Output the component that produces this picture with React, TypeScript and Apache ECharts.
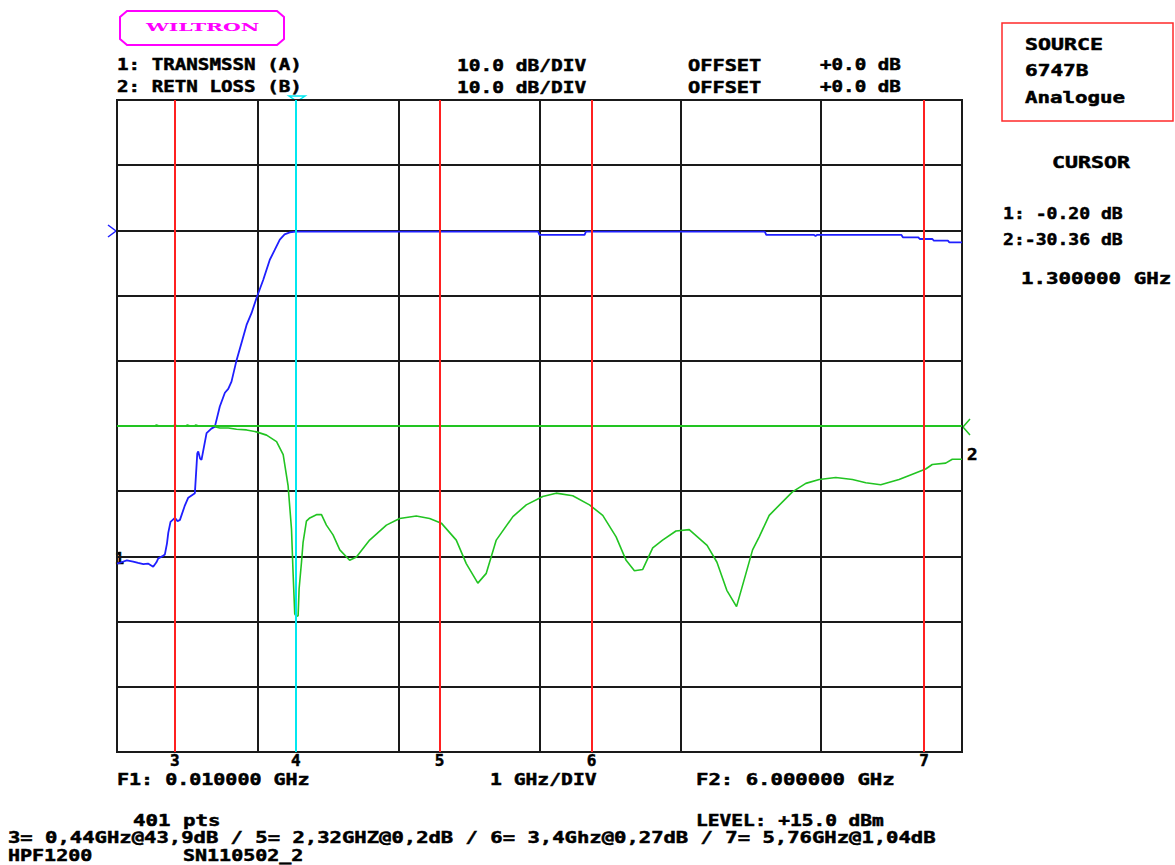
import React, { useEffect, useRef } from "react";
import * as echarts from "echarts";

// Trace 1: transmission (dB) vs frequency (GHz)
const transmission: [number, number][] = [
  [0.03, -51.1], [0.06, -50.9], [0.1, -50.6], [0.145, -50.8], [0.18, -51.0], [0.217, -51.2],
  [0.25, -51.1], [0.287, -51.6], [0.31, -50.9], [0.323, -50.3], [0.35, -50.0], [0.37, -49.7],
  [0.385, -48.0], [0.394, -46.4], [0.41, -44.7], [0.441, -44.1], [0.46, -44.6], [0.477, -44.4],
  [0.51, -42.3], [0.536, -41.0], [0.583, -40.3], [0.6, -34.2], [0.607, -33.9], [0.62, -35.0],
  [0.63, -35.2], [0.666, -31.1], [0.7, -30.4], [0.725, -30.1], [0.76, -27.0], [0.796, -24.9],
  [0.82, -24.3], [0.843, -23.2], [0.879, -19.9], [0.92, -16.8], [0.95, -14.5], [0.985, -12.7],
  [1.02, -10.4], [1.068, -7.6], [1.115, -4.5], [1.15, -3.0], [1.186, -1.4], [1.22, -0.6],
  [1.257, -0.3], [1.3, -0.2], [2.0, -0.2], [2.32, -0.2], [3.02, -0.2], [3.03, -0.7],
  [3.35, -0.7], [3.36, -0.2], [4.63, -0.2], [4.64, -0.7], [4.98, -0.7], [4.99, -0.85],
  [5.0, -0.7], [5.6, -0.7], [5.61, -1.06], [5.72, -1.06], [5.73, -1.32], [5.82, -1.32],
  [5.83, -1.58], [5.93, -1.58], [5.94, -1.83], [6.03, -1.83],
];

// Trace 2: return loss (dB) vs frequency (GHz)
const returnLoss: [number, number][] = [
  [0.03, 0.0], [0.3, 0.0], [0.31, 0.15], [0.33, 0.0], [0.43, 0.0], [0.44, 0.15], [0.46, 0.0],
  [0.52, 0.0], [0.53, 0.15], [0.55, 0.0], [0.58, 0.0], [0.59, 0.15], [0.61, 0.0], [0.7, 0.0],
  [0.76, -0.3], [0.82, -0.3], [0.879, -0.5], [0.95, -0.6], [1.02, -0.9], [1.092, -1.4],
  [1.163, -2.4], [1.21, -4.4], [1.245, -9.2], [1.269, -15.8], [1.28, -22.4], [1.292, -28.8],
  [1.303, -29.2], [1.316, -29.1], [1.323, -25.0], [1.34, -20.9], [1.351, -17.9], [1.375, -14.6],
  [1.399, -14.1], [1.446, -13.6], [1.482, -13.6], [1.517, -15.2], [1.564, -16.7], [1.612, -19.0],
  [1.682, -20.6], [1.73, -20.1], [1.824, -17.5], [1.943, -15.2], [2.037, -14.2], [2.155, -13.8],
  [2.25, -14.2], [2.333, -14.9], [2.439, -17.5], [2.51, -21.1], [2.592, -24.1], [2.652, -22.6],
  [2.723, -17.5], [2.841, -13.9], [2.936, -12.1], [3.053, -10.8], [3.148, -10.3], [3.266, -10.7],
  [3.385, -12.1], [3.479, -13.7], [3.574, -17.0], [3.645, -20.6], [3.704, -22.2], [3.763, -22.0],
  [3.834, -18.7], [3.904, -17.5], [3.999, -16.1], [4.093, -15.9], [4.22, -18.3], [4.29, -20.9],
  [4.36, -25.2], [4.429, -27.7], [4.496, -22.6], [4.543, -19.0], [4.59, -17.0], [4.661, -13.7],
  [4.826, -10.1], [4.921, -8.8], [5.016, -8.2], [5.134, -7.9], [5.252, -8.2], [5.347, -8.7],
  [5.453, -9.0], [5.583, -8.2], [5.678, -7.4], [5.772, -6.6], [5.819, -5.9], [5.914, -5.7],
  [5.961, -5.1], [6.03, -5.1],
];

const markerFreqs = [0.44, 2.32, 3.4, 5.76];
const markerNames = ["3", "5", "6", "7"];
const cursorFreq = 1.3;
const cursorName = "4";

const FONT = "bold 16px 'DejaVu Sans Mono', monospace";

function txt(text: string, x: number, y: number, scaleX: number, extra: any = {}) {
  return {
    type: "text",
    x,
    y,
    scaleX,
    silent: true,
    style: {
      text,
      fill: "#000",
      stroke: "#000",
      lineWidth: 0.5,
      font: FONT,
      align: "left",
      verticalAlign: "middle",
      ...extra,
    },
  };
}

export default function App() {
  const ref = useRef<HTMLDivElement>(null);

  useEffect(() => {
    if (!ref.current) return;
    const chart = echarts.init(ref.current, undefined, { renderer: "svg" });
    const gridLine = { color: "#1a1a1a", width: 2 };
    const option: any = {
      animation: false,
      backgroundColor: "#ffffff",
      grid: {
        left: 117,
        top: 100,
        width: 845,
        height: 652,
        show: true,
        borderColor: "#1a1a1a",
        borderWidth: 2,
        backgroundColor: "transparent",
      },
      xAxis: [
        { type: "value", min: 0.03, max: 6.03, show: false },
        {
          type: "value",
          min: 0,
          max: 6,
          interval: 1,
          axisLine: { show: false },
          axisTick: { show: false },
          axisLabel: { show: false },
          splitLine: { show: true, lineStyle: gridLine },
        },
      ],
      yAxis: [
        {
          type: "value",
          min: -80,
          max: 20,
          interval: 10,
          axisLine: { show: false },
          axisTick: { show: false },
          axisLabel: { show: false },
          splitLine: { show: true, lineStyle: gridLine },
        },
        { type: "value", min: -50, max: 50, show: false },
      ],
      series: [
        {
          name: "2: RETN LOSS (B)",
          type: "line",
          xAxisIndex: 0,
          yAxisIndex: 1,
          data: returnLoss,
          showSymbol: false,
          symbol: "none",
          lineStyle: { color: "#22c422", width: 1.6 },
          z: 3,
          markLine: {
            silent: true,
            symbol: ["none", "none"],
            label: { show: false },
            lineStyle: { color: "#22c422", width: 2, type: "solid" },
            data: [{ yAxis: 0 }],
          },
        },
        {
          name: "1: TRANSMSSN (A)",
          type: "line",
          xAxisIndex: 0,
          yAxisIndex: 0,
          data: transmission,
          showSymbol: false,
          symbol: "none",
          lineStyle: { color: "#1f1fff", width: 1.8 },
          z: 4,
          markLine: {
            silent: true,
            symbol: ["none", "none"],
            lineStyle: { color: "#ff2020", width: 2, type: "solid" },
            label: {
              show: true,
              position: "start",
              formatter: "{b}",
              color: "#000",
              textBorderColor: "#000",
              textBorderWidth: 0.5,
              fontFamily: "'DejaVu Sans Mono', monospace",
              fontWeight: "bold",
              fontSize: 16,
              distance: 0,
            },
            data: [
              ...markerFreqs.map((f, i) => ({ xAxis: f, name: markerNames[i] })),
              {
                xAxis: cursorFreq,
                name: cursorName,
                lineStyle: { color: "#00e8f0", width: 2, type: "solid" },
              },
            ],
          },
        },
      ],
      graphic: [
        {
          type: "polygon",
          silent: true,
          shape: {
            points: [
              [127, 11], [277, 11], [284, 17], [284, 39], [277, 45], [127, 45], [120, 39], [120, 17],
            ],
          },
          style: { fill: "none", stroke: "#ff00ff", lineWidth: 2 },
        },
        txt("WILTRON", 146, 27, 1.85, {
          fill: "#ff00ff",
          stroke: "none",
          lineWidth: 0,
          font: "bold 11px 'DejaVu Serif', serif",
        }),
        txt("1: TRANSMSSN (A)", 117, 65, 1.2),
        txt("2: RETN LOSS (B)", 117, 87, 1.2),
        txt("10.0 dB/DIV", 457, 65, 1.22),
        txt("10.0 dB/DIV", 457, 87, 1.22),
        txt("OFFSET", 688, 65, 1.27),
        txt("OFFSET", 688, 87, 1.27),
        txt("+0.0 dB", 820, 65, 1.2),
        txt("+0.0 dB", 820, 87, 1.2),
        {
          type: "rect",
          silent: true,
          shape: { x: 1002, y: 23, width: 171, height: 98 },
          style: { fill: "none", stroke: "#ff2a2a", lineWidth: 1.5 },
        },
        txt("SOURCE", 1025, 44, 1.35),
        txt("6747B", 1025, 70, 1.32),
        txt("Analogue", 1025, 97, 1.3),
        txt("CURSOR", 1052, 162, 1.35),
        txt("1: -0.20 dB", 1003, 213, 1.13),
        txt("2:-30.36 dB", 1003, 239, 1.13),
        txt("1.300000 GHz", 1021, 278, 1.3),
        txt("F1: 0.010000 GHz", 117, 779, 1.25),
        txt("1 GHz/DIV", 490, 779, 1.23),
        txt("F2: 6.000000 GHz", 696, 779, 1.29),
        txt("401 pts", 133, 820, 1.3),
        txt("LEVEL: +15.0 dBm", 696, 820, 1.22),
        txt("3= 0,44GHz@43,9dB / 5= 2,32GHZ@0,2dB / 6= 3,4Ghz@0,27dB / 7= 5,76GHz@1,04dB", 8, 837, 1.285),
        txt("HPF1200", 8, 855, 1.25),
        txt("SN110502_2", 183, 855, 1.25),
        // trace reference markers
        {
          type: "polyline",
          silent: true,
          shape: { points: [[108, 225], [116, 231], [108, 237]] },
          style: { stroke: "#1f1fff", lineWidth: 1.5, fill: "none" },
        },
        {
          type: "polyline",
          silent: true,
          shape: { points: [[970, 419], [963, 427], [970, 435]] },
          style: { stroke: "#22c422", lineWidth: 1.5, fill: "none" },
        },
        {
          type: "polygon",
          silent: true,
          shape: { points: [[289, 96], [305, 96], [299, 100], [295, 100]] },
          style: { stroke: "#00e8f0", lineWidth: 1.5, fill: "none" },
        },
        txt("1", 115, 559, 1.0, { font: "bold 15px 'DejaVu Sans Mono', monospace" }),
        txt("2", 967, 454, 1.1),
      ],
    };
    chart.setOption(option);
    return () => chart.dispose();
  }, []);

  return (
    <div
      ref={ref}
      style={{ position: "fixed", left: 0, top: 0, width: 1175, height: 865, background: "#fff" }}
    />
  );
}
